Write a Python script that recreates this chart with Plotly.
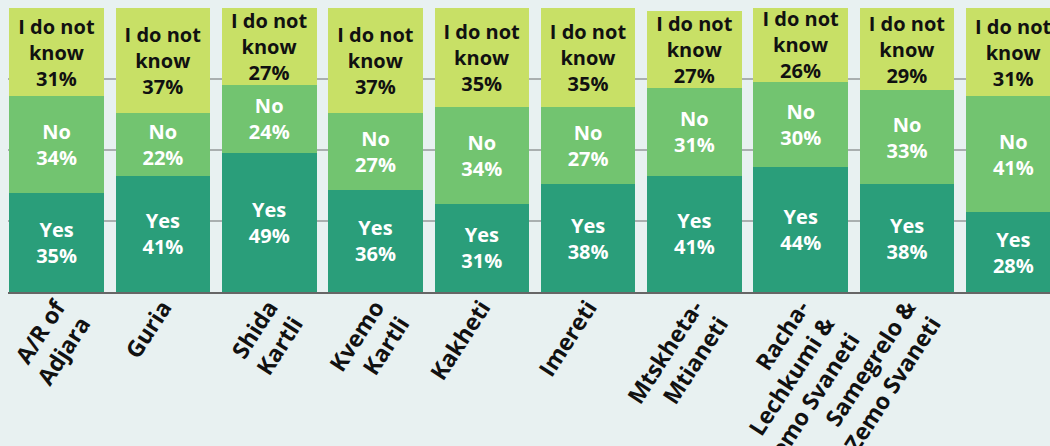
import plotly.graph_objects as go

regions = ["A/R of<br>Adjara", "Guria", "Shida<br>Kartli", "Kvemo<br>Kartli", "Kakheti",
           "Imereti", "Mtskheta-<br>Mtianeti", "Racha-<br>Lechkumi &<br>Kvemo Svaneti",
           "Samegrelo &<br>Zemo Svaneti", "Samtskhe-<br>Javakheti"]
yes_vals = [35, 41, 49, 36, 31, 38, 41, 44, 38, 28]
no_vals = [34, 22, 24, 27, 34, 27, 31, 30, 33, 41]
idk_vals = [31, 37, 27, 37, 35, 35, 27, 26, 29, 31]

series = [
    ("Yes", yes_vals, "#2a9e7a", "white", "Yes"),
    ("No", no_vals, "#72c470", "white", "No"),
    ("I do not know", idk_vals, "#c8e066", "#111111", "I do not<br>know"),
]

x_idx = list(range(len(regions)))
fig = go.Figure()
for name, vals, color, tcolor, lab in series:
    fig.add_trace(go.Bar(
        x=x_idx, y=vals, name=name,
        marker=dict(color=color, line=dict(width=0),
                    cornerradius=7 if name == "I do not know" else 0),
        text=[f"{lab}<br>{v}%" for v in vals],
        textposition="inside", insidetextanchor="middle", textangle=0,
        constraintext="none",
        textfont=dict(family="Open Sans", size=20, color=tcolor, weight="bold"),
        hoverinfo="skip",
    ))

fig.update_layout(
    barmode="stack", bargap=0.11,
    width=1050, height=446,
    margin=dict(l=8, r=0, t=8, b=154),
    paper_bgcolor="#e8f1f1", plot_bgcolor="#e8f1f1",
    showlegend=False,
    uniformtext=dict(minsize=20, mode="show"),
    font=dict(family="Open Sans", color="#111111"),
)
fig.update_xaxes(
    tickmode="array", tickvals=x_idx, ticktext=[f"<b>{r}</b>" for r in regions],
    tickangle=-57, range=[-0.457, 9.345], automargin=False,
    tickfont=dict(family="Open Sans", size=23, color="#111111"),
    ticklabelstandoff=-9, ticklabelshift=0,
    showline=True, linecolor="#666666", linewidth=2, layer="below traces",
    showgrid=False, ticks="", zeroline=False,
)
fig.update_yaxes(
    range=[0, 100], tickvals=[0, 25, 50, 75, 100], showticklabels=False,
    showgrid=True, gridcolor="#a9afaf", gridwidth=2, zeroline=False, automargin=False,
)
fig.write_html("out.html")
